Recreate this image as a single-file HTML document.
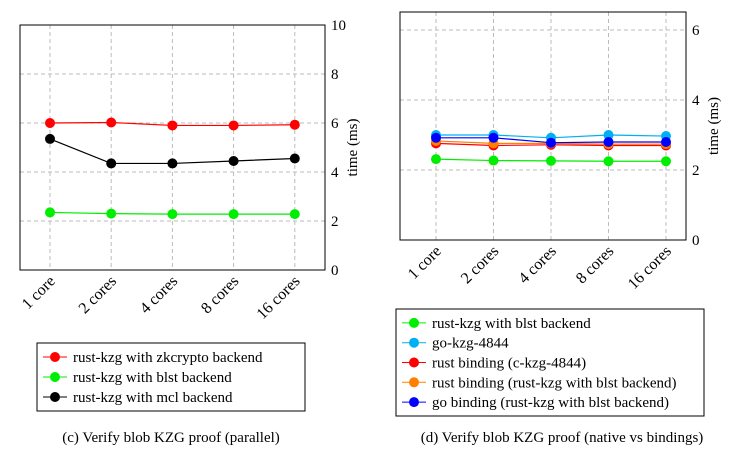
<!DOCTYPE html>
<html><head><meta charset="utf-8"><style>
body{margin:0;background:#fff;width:745px;height:457px;overflow:hidden}
svg{font-family:"Liberation Serif",serif}
</style></head><body>
<svg id="s" width="745" height="457">
<text x="171" y="442" font-size="15" text-anchor="middle">(c) Verify blob KZG proof (parallel)</text>
<text x="562" y="442" font-size="15" text-anchor="middle">(d) Verify blob KZG proof (native vs bindings)</text>
</svg>
<script>
const categories=["1 core","2 cores","4 cores","8 cores","16 cores"];
const leftNames=["rust-kzg with zkcrypto backend","rust-kzg with blst backend","rust-kzg with mcl backend"];
const leftColors=["#ff0000","#00ee00","#000000"];
const leftZk=[6.0,6.02,5.9,5.9,5.93];
const leftBlst=[2.35,2.3,2.28,2.28,2.28];
const leftMcl=[5.35,4.35,4.35,4.45,4.55];
const leftTicks=[0,2,4,6,8,10];
const rightNames=["rust-kzg with blst backend","go-kzg-4844","rust binding (c-kzg-4844)","rust binding (rust-kzg with blst backend)","go binding (rust-kzg with blst backend)"];
const rightColors=["#00ee00","#00b0f0","#ff0000","#ff8000","#0000ff"];
const rBlst=[2.31,2.27,2.26,2.25,2.25];
const rGo=[3.0,3.0,2.92,3.0,2.97];
const rC=[2.76,2.7,2.72,2.7,2.7];
const rRust=[2.83,2.76,2.76,2.74,2.74];
const rGoB=[2.92,2.92,2.78,2.8,2.8];
const rightTicks=[0,2,4,6];
const S=document.getElementById('s'),NS="http://www.w3.org/2000/svg";
function el(t,a,txt){const e=document.createElementNS(NS,t);for(const k in a)e.setAttribute(k,a[k]);if(txt!==undefined)e.textContent=txt;S.appendChild(e);return e;}
function chart(o){
 const xs=i=>o.x0+o.dx*i, ys=v=>o.yb-(v-o.ymin)*(o.yb-o.yt)/(o.ymax-o.ymin);
 o.ticks.forEach(t=>{const y=ys(t);
  const g=el('line',{x1:o.L,x2:o.R,y1:y,y2:y,stroke:'#bbb','stroke-dasharray':'4,3'});
  
  const tk=el('text',{x:o.R+6,y:y+5,'font-size':15},t);
  });
 categories.forEach((c,i)=>{const x=xs(i);
  const g=el('line',{x1:x,x2:x,y1:o.T,y2:o.B,stroke:'#bbb','stroke-dasharray':'4,3'});
  
  const t=el('text',{x:x+6,y:o.B+12,'font-size':16,'text-anchor':'end',transform:`rotate(-45 ${x+6} ${o.B+12})`},c);
  });
 const f=el('rect',{x:o.L,y:o.T,width:o.R-o.L,height:o.B-o.T,fill:'none',stroke:'#000'});
 
 const yt=el('text',{x:o.R+32,y:(o.T+o.B)/2,'font-size':15,'text-anchor':'middle',transform:`rotate(-90 ${o.R+32} ${(o.T+o.B)/2})`},'time (ms)');
 
 o.series.forEach((s,k)=>{
  const p=el('polyline',{points:s.map((v,i)=>xs(i)+','+ys(v)).join(' '),fill:'none',stroke:o.colors[k],'stroke-width':1.2});
  
  s.forEach((v,i)=>{const c=el('circle',{cx:xs(i),cy:ys(v),r:5,fill:o.colors[k]});
   });});
 const lg=el('rect',{x:o.lx,y:o.ly,width:o.lw,height:o.names.length*o.lh+8,fill:'#fff',stroke:'#000'});
 
 o.names.forEach((n,k)=>{const y=o.ly+4+o.lh*(k+0.5);
  const l=el('line',{x1:o.lx+6,x2:o.lx+30,y1:y,y2:y,stroke:o.colors[k]});
  const c=el('circle',{cx:o.lx+18,cy:y,r:5,fill:o.colors[k]});
  const t=el('text',{x:o.lx+36,y:y+5,'font-size':15},n);});
}
chart({L:20,R:325,T:25,B:270,x0:50,dx:61.2,yb:270,yt:25,ymin:0,ymax:10,ticks:leftTicks,series:[leftZk,leftBlst,leftMcl],colors:leftColors,names:leftNames,lx:37,ly:343,lw:268,lh:20});
chart({L:400,R:686,T:12,B:240,x0:436,dx:57.5,yb:240,yt:30,ymin:0,ymax:6,ticks:rightTicks,series:[rBlst,rGo,rC,rRust,rGoB],colors:rightColors,names:rightNames,lx:396,ly:309,lw:308,lh:19.8});
</script>
</body></html>
